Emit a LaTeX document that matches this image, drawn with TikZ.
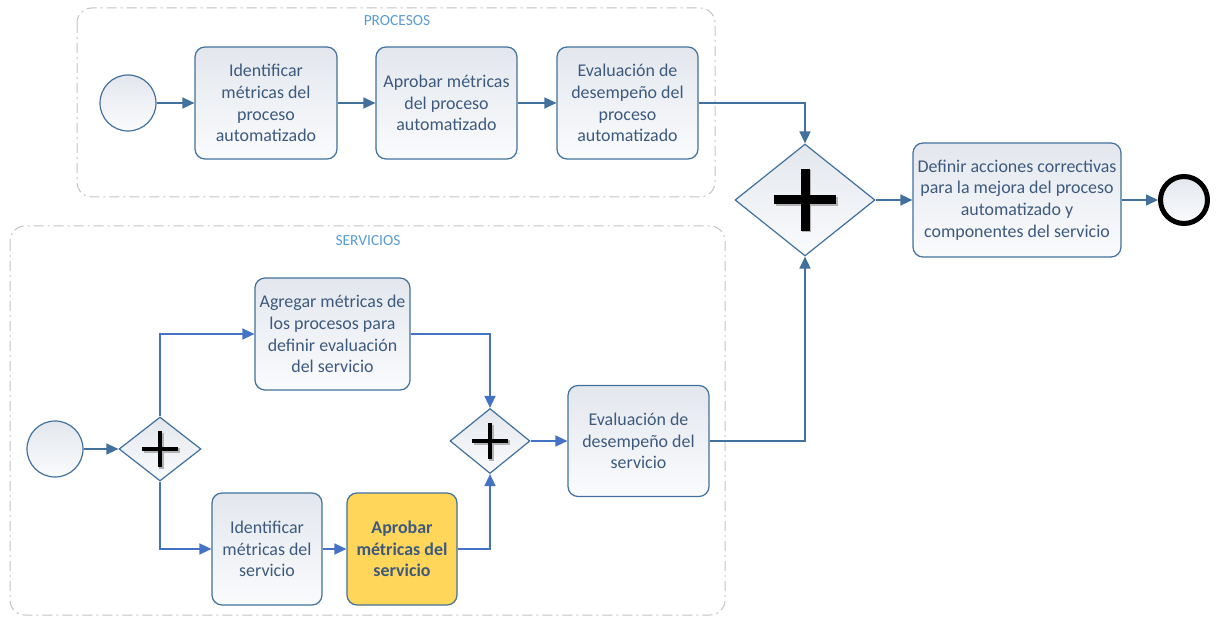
\documentclass[tikz,border=0pt]{standalone}
\usepackage{fontspec}
\setmainfont{Carlito}
\usetikzlibrary{shapes.geometric,arrows.meta}
\definecolor{steel}{HTML}{41719C}
\definecolor{flowblue}{HTML}{4472C4}
\definecolor{txt}{HTML}{3D5A7E}
\definecolor{lane}{HTML}{C4C4C4}
\definecolor{lanelbl}{HTML}{5B9BD5}
\definecolor{topfill}{HTML}{E3E7ED}
\definecolor{botfill}{HTML}{FAFBFD}
\definecolor{gold}{HTML}{FFD659}
\newcommand{\gwplus}[3]{%
  \draw[line width=#3,black!30] ([shift={(-#2+1.5,1.5)}]#1.center) -- ([shift={(#2+1.5,1.5)}]#1.center);
  \draw[line width=#3,black!30] ([shift={(1.5,-#2+1.5)}]#1.center) -- ([shift={(1.5,#2+1.5)}]#1.center);
  \draw[line width=#3,black] ([shift={(-#2,0)}]#1.center) -- ([shift={(#2,0)}]#1.center);
  \draw[line width=#3,black] ([shift={(0,-#2)}]#1.center) -- ([shift={(0,#2)}]#1.center);
}
\begin{document}
\begin{tikzpicture}[x=1bp,y=-1bp,
  task/.style={draw=steel,line width=1.2bp,rounded corners=10bp,top color=topfill,bottom color=botfill,
    inner sep=0pt,align=center,text=txt,font=\fontsize{18}{21.8}\selectfont},
  goldtask/.style={draw=steel,line width=1.2bp,rounded corners=10bp,fill=gold,
    inner sep=0pt,align=center,text=txt,font=\fontsize{18}{21.8}\selectfont\bfseries},
  startev/.style={circle,draw=steel,line width=1.2bp,top color=topfill,bottom color=botfill,inner sep=0pt,minimum size=56bp},
  endev/.style={circle,draw=black,line width=5bp,top color=topfill,bottom color=botfill,inner sep=0pt,minimum size=47bp},
  gw/.style={diamond,draw=steel,line width=1.2bp,top color=topfill,bottom color=botfill,inner sep=0pt},
  lanebox/.style={draw=lane,line width=1bp,rounded corners=15bp,dash pattern=on 10bp off 4bp on 2bp off 4bp},
  lanelabel/.style={text=lanelbl,font=\fontsize{15.5}{17}\selectfont},
  flow/.style={draw=steel,line width=1.5bp,-{Triangle[length=12bp,width=11bp]}},
  flowb/.style={draw=flowblue,line width=1.5bp,-{Triangle[length=12bp,width=11bp]}}
]
\useasboundingbox (0,0) rectangle (1219,618);
\fill[white] (0,0) rectangle (1219,618);
% lanes
\draw[lanebox] (77,8) rectangle (715,197);
\node[lanelabel] (lp) at (397,21) {PROCESOS};
\draw[lanebox] (10,226) rectangle (725,615);
\node[lanelabel] (ls) at (368,241) {SERVICIOS};
% top row
\node[startev] (S1) at (128,103) {};
\node[task,minimum width=142bp,minimum height=112bp] (T1) at (266,103) {Identificar\\métricas del\\proceso\\automatizado};
\node[task,minimum width=141bp,minimum height=112bp] (T2) at (446.5,103) {Aprobar métricas\\del proceso\\automatizado};
\node[task,minimum width=141bp,minimum height=112bp] (T3) at (627.5,103) {Evaluación de\\desempeño del\\proceso\\automatizado};
\node[gw,minimum width=140bp,minimum height=112bp] (G1) at (805,200) {};
\node[task,minimum width=208bp,minimum height=114bp] (F) at (1017,200) {Definir acciones correctivas\\para la mejora del proceso\\automatizado y\\componentes del servicio};
\node[endev] (E) at (1184,200) {};
% bottom
\node[startev] (S2) at (55,449) {};
\node[gw,minimum width=82bp,minimum height=64bp] (G2) at (160,449) {};
\node[task,minimum width=155bp,minimum height=112bp] (TA) at (332.5,334) {Agregar métricas de\\los procesos para\\definir evaluación\\del servicio};
\node[task,minimum width=110bp,minimum height=112bp] (TB) at (267,549) {Identificar\\métricas del\\servicio};
\node[goldtask,minimum width=110bp,minimum height=112bp] (TC) at (402,549) {Aprobar\\métricas del\\servicio};
\node[gw,minimum width=80bp,minimum height=65bp] (G3) at (490,441) {};
\node[task,minimum width=141bp,minimum height=111bp] (TD) at (638.5,441) {Evaluación de\\desempeño del\\servicio};
% plus signs
\gwplus{G1}{31}{9bp}
\gwplus{G2}{18}{4.5bp}
\gwplus{G3}{18}{4.5bp}
% flows
\draw[flow] (S1) -- (T1);
\draw[flow] (T1) -- (T2);
\draw[flow] (T2) -- (T3);
\draw[flow] (T3.east) -| (G1.north);
\draw[flow] (G1) -- (F);
\draw[flow] (F) -- (E);
\draw[flow] (S2) -- (G2);
\draw[flowb] (G2.north) |- (TA.west);
\draw[flowb] (TA.east) -| (G3.north);
\draw[flowb] (G2.south) |- (TB.west);
\draw[flowb] (TB) -- (TC);
\draw[flowb] (TC.east) -| (G3.south);
\draw[flowb] (G3) -- (TD);
\draw[flow] (TD.east) -| (G1.south);
\end{tikzpicture}
\end{document}
